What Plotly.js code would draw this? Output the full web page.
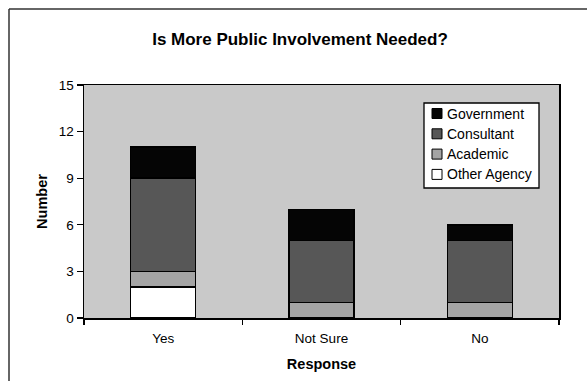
<!DOCTYPE html>
<html>
<head>
<meta charset="utf-8">
<script src="https://cdn.plot.ly/plotly-3.0.1.min.js"></script>
<style>
  html, body { margin: 0; padding: 0; background: #ffffff; }
  #chart { width: 587px; height: 381px; }
</style>
</head>
<body>
<div id="chart"></div>
<script>
// Survey responses by respondent type
const responses = ["Yes", "Not Sure", "No"];
const otherAgency = [2, 0, 0];
const academic = [1, 1, 1];
const consultant = [6, 4, 4];
const government = [2, 2, 1];
const yTicks = [0, 3, 6, 9, 12, 15];

const font = "Liberation Sans, Arial, Helvetica, sans-serif";

// Figure geometry (pixels)
const W = 587, H = 381;
const M = { l: 84, r: 28, t: 85, b: 63 };
const plotW = W - M.l - M.r, plotH = H - M.t - M.b;
const px = x => (x - M.l) / plotW;          // pixel x -> paper x
const py = y => (H - M.b - y) / plotH;      // pixel y -> paper y

function barTrace(name, values, color) {
  return {
    type: "bar",
    name: name,
    x: responses,
    y: values,
    marker: { color: color, line: { color: "#000000", width: 1.5 } },
    hoverinfo: "x+y+name"
  };
}

const traces = [
  barTrace("Other Agency", otherAgency, "#ffffff"),
  barTrace("Academic", academic, "#a4a4a4"),
  barTrace("Consultant", consultant, "#575757"),
  barTrace("Government", government, "#050505")
];

// Legend box drawn as shapes + annotations, top entry = top of stack
const shapes = [
  // outer frame (top and left edges)
  { type: "line", xref: "paper", yref: "paper",
    x0: px(9), x1: px(600), y0: py(9), y1: py(9),
    line: { color: "#333333", width: 1.5 } },
  { type: "line", xref: "paper", yref: "paper",
    x0: px(9), x1: px(9), y0: py(9), y1: py(400),
    line: { color: "#333333", width: 1.5 } },
  // legend frame
  { type: "rect", xref: "paper", yref: "paper",
    x0: px(424), x1: px(539), y0: py(103), y1: py(188),
    fillcolor: "#ffffff", line: { color: "#000000", width: 1.3 } }
];
const annotations = [];
const legendItems = traces.slice().reverse();
legendItems.forEach((tr, i) => {
  const cy = 113.5 + i * 20.3;
  shapes.push({
    type: "rect", xref: "paper", yref: "paper",
    x0: px(432), x1: px(442), y0: py(cy - 5), y1: py(cy + 5),
    fillcolor: tr.marker.color, line: { color: "#000000", width: 1 }
  });
  annotations.push({
    xref: "paper", yref: "paper", x: px(445), y: py(cy),
    xanchor: "left", yanchor: "middle", showarrow: false,
    text: tr.name, font: { family: font, size: 14, color: "#000000" }
  });
});

const layout = {
  width: W,
  height: H,
  margin: M,
  paper_bgcolor: "#ffffff",
  plot_bgcolor: "#c9c9c9",
  barmode: "stack",
  bargap: 0.59,
  showlegend: false,
  font: { family: font, color: "#000000", size: 13.5 },
  title: {
    text: "<b>Is More Public Involvement Needed?</b>",
    font: { family: font, size: 17, color: "#000000" },
    x: 300 / W, xref: "container", xanchor: "center",
    y: (H - 39) / H, yref: "container", yanchor: "middle"
  },
  xaxis: {
    type: "category",
    showline: true, linecolor: "#000000", linewidth: 1.5, mirror: true,
    ticks: "outside", tickson: "boundaries", ticklen: 5, tickwidth: 1.2, tickcolor: "#000000",
    tickfont: { family: font, size: 13.5, color: "#000000" },
    ticklabelstandoff: 7,
    showgrid: false, zeroline: false,
    title: { text: "<b>Response</b>", font: { family: font, size: 14.5, color: "#000000" }, standoff: 14 }
  },
  yaxis: {
    range: [0, 15],
    tickvals: yTicks,
    ticktext: yTicks.map(String),
    showline: true, linecolor: "#000000", linewidth: 1.5, mirror: true,
    ticks: "outside", ticklen: 6, tickwidth: 1.2, tickcolor: "#000000",
    tickfont: { family: font, size: 13.5, color: "#000000" },
    showgrid: false, zeroline: false,
    title: { text: "<b>Number</b>", font: { family: font, size: 14.5, color: "#000000" }, standoff: 7 }
  },
  shapes: shapes,
  annotations: annotations
};

Plotly.newPlot("chart", traces, layout, { displayModeBar: false, staticPlot: true });
</script>
</body>
</html>
